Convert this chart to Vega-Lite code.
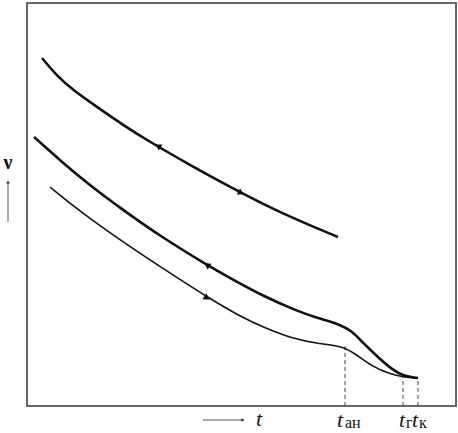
{
  "$schema": "https://vega.github.io/schema/vega-lite/v6.json",
  "width": 429,
  "height": 403,
  "autosize": {"type": "none"},
  "padding": {"left": 27, "top": 3, "right": 2, "bottom": 27},
  "background": "white",
  "config": {"view": {"stroke": "#666", "strokeWidth": 2}},
  "datasets": {
    "curves": [
      {"c": "top", "x": 15, "y": 348}, {"c": "top", "x": 30, "y": 330}, {"c": "top", "x": 46, "y": 316},
      {"c": "top", "x": 70, "y": 299}, {"c": "top", "x": 96, "y": 281}, {"c": "top", "x": 123, "y": 264},
      {"c": "top", "x": 163, "y": 241}, {"c": "top", "x": 203, "y": 219}, {"c": "top", "x": 236, "y": 202},
      {"c": "top", "x": 270, "y": 186}, {"c": "top", "x": 311, "y": 169},
      {"c": "mid", "x": 7, "y": 269}, {"c": "mid", "x": 36, "y": 243}, {"c": "mid", "x": 60, "y": 223},
      {"c": "mid", "x": 96, "y": 196}, {"c": "mid", "x": 133, "y": 170}, {"c": "mid", "x": 180, "y": 141},
      {"c": "mid", "x": 203, "y": 128}, {"c": "mid", "x": 236, "y": 110}, {"c": "mid", "x": 270, "y": 95},
      {"c": "mid", "x": 290, "y": 88}, {"c": "mid", "x": 312, "y": 82}, {"c": "mid", "x": 325, "y": 75},
      {"c": "mid", "x": 336, "y": 63}, {"c": "mid", "x": 353, "y": 47}, {"c": "mid", "x": 366, "y": 36},
      {"c": "mid", "x": 376, "y": 30}, {"c": "mid", "x": 391, "y": 28},
      {"c": "bot", "x": 23, "y": 219}, {"c": "bot", "x": 51, "y": 196}, {"c": "bot", "x": 103, "y": 159},
      {"c": "bot", "x": 143, "y": 133}, {"c": "bot", "x": 180, "y": 109}, {"c": "bot", "x": 216, "y": 88},
      {"c": "bot", "x": 236, "y": 79}, {"c": "bot", "x": 266, "y": 67}, {"c": "bot", "x": 293, "y": 62},
      {"c": "bot", "x": 316, "y": 60}, {"c": "bot", "x": 330, "y": 51}, {"c": "bot", "x": 346, "y": 39},
      {"c": "bot", "x": 363, "y": 32}, {"c": "bot", "x": 376, "y": 29}, {"c": "bot", "x": 391, "y": 28}
    ],
    "arrows": [
      {"x": 131, "y": 260, "shape": "triangle-left", "angle": 31},
      {"x": 214, "y": 213, "shape": "triangle-right", "angle": 30},
      {"x": 180, "y": 141, "shape": "triangle-left", "angle": 33},
      {"x": 180, "y": 108, "shape": "triangle-right", "angle": 33}
    ],
    "drops": [
      {"x": 318, "y": 0, "y2": 60},
      {"x": 376, "y": 0, "y2": 29},
      {"x": 391, "y": 0, "y2": 28}
    ],
    "tmain": [
      {"x": 232, "y": -20, "label": "t"},
      {"x": 313, "y": -21, "label": "t"},
      {"x": 375, "y": -21, "label": "t"},
      {"x": 388, "y": -21, "label": "t"}
    ],
    "tsub": [
      {"x": 318, "y": -22, "label": "ан"},
      {"x": 379, "y": -22, "label": "г"},
      {"x": 392, "y": -22, "label": "к"}
    ],
    "axisArrows": [
      {"x": -19, "y": 184, "x2": -19, "y2": 224},
      {"x": 176, "y": -14, "x2": 216, "y2": -14}
    ],
    "axisHeads": [
      {"x": -19, "y": 224, "shape": "triangle-up"},
      {"x": 216, "y": -14, "shape": "triangle-right"}
    ],
    "nu": [{"x": -19, "y": 243, "label": "ν"}]
  },
  "layer": [
    {
      "data": {"name": "drops"},
      "mark": {"type": "rule", "color": "#444", "strokeWidth": 1, "strokeDash": [4, 3], "clip": false},
      "encoding": {
        "x": {"field": "x", "type": "quantitative", "scale": {"domain": [0, 429], "nice": false, "zero": false}, "axis": null},
        "y": {"field": "y", "type": "quantitative", "scale": {"domain": [0, 403], "nice": false, "zero": false}, "axis": null},
        "y2": {"field": "y2"}
      }
    },
    {
      "data": {"name": "curves"},
      "transform": [{"filter": "datum.c !== 'bot'"}],
      "mark": {"type": "line", "interpolate": "basis", "color": "#111", "strokeWidth": 2.6, "clip": false},
      "encoding": {
        "x": {"field": "x", "type": "quantitative"},
        "y": {"field": "y", "type": "quantitative"},
        "detail": {"field": "c"}
      }
    },
    {
      "data": {"name": "curves"},
      "transform": [{"filter": "datum.c === 'bot'"}],
      "mark": {"type": "line", "interpolate": "basis", "color": "#111", "strokeWidth": 1.6, "clip": false},
      "encoding": {
        "x": {"field": "x", "type": "quantitative"},
        "y": {"field": "y", "type": "quantitative"}
      }
    },
    {
      "data": {"name": "arrows"},
      "mark": {"type": "point", "filled": true, "color": "#111", "size": 50, "opacity": 1},
      "encoding": {
        "x": {"field": "x", "type": "quantitative"},
        "y": {"field": "y", "type": "quantitative"},
        "shape": {"field": "shape", "type": "nominal", "scale": null},
        "angle": {"field": "angle", "type": "quantitative", "scale": null}
      }
    },
    {
      "data": {"name": "axisArrows"},
      "mark": {"type": "rule", "color": "#555", "strokeWidth": 1, "clip": false},
      "encoding": {
        "x": {"field": "x", "type": "quantitative"},
        "y": {"field": "y", "type": "quantitative"},
        "x2": {"field": "x2"},
        "y2": {"field": "y2"}
      }
    },
    {
      "data": {"name": "axisHeads"},
      "mark": {"type": "point", "filled": true, "color": "#333", "size": 14, "opacity": 1, "clip": false},
      "encoding": {
        "x": {"field": "x", "type": "quantitative"},
        "y": {"field": "y", "type": "quantitative"},
        "shape": {"field": "shape", "type": "nominal", "scale": null}
      }
    },
    {
      "data": {"name": "tmain"},
      "mark": {"type": "text", "font": "Liberation Serif", "fontStyle": "italic", "fontSize": 22, "align": "center", "baseline": "alphabetic", "color": "#111", "clip": false},
      "encoding": {
        "x": {"field": "x", "type": "quantitative"},
        "y": {"field": "y", "type": "quantitative"},
        "text": {"field": "label"}
      }
    },
    {
      "data": {"name": "tsub"},
      "mark": {"type": "text", "font": "Liberation Serif", "fontSize": 16, "align": "left", "baseline": "alphabetic", "color": "#111", "clip": false},
      "encoding": {
        "x": {"field": "x", "type": "quantitative"},
        "y": {"field": "y", "type": "quantitative"},
        "text": {"field": "label"}
      }
    },
    {
      "data": {"name": "nu"},
      "mark": {"type": "text", "font": "Liberation Serif", "fontWeight": "bold", "fontSize": 20, "align": "center", "baseline": "middle", "color": "#111", "clip": false},
      "encoding": {
        "x": {"field": "x", "type": "quantitative"},
        "y": {"field": "y", "type": "quantitative"},
        "text": {"field": "label"}
      }
    }
  ]
}
